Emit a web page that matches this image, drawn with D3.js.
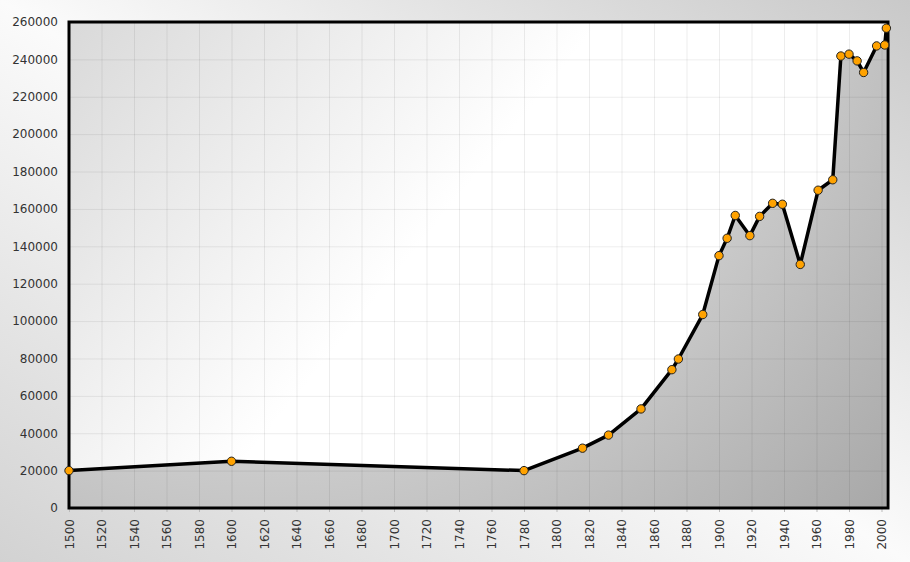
<!DOCTYPE html>
<html>
<head>
<meta charset="utf-8">
<script src="https://cdn.jsdelivr.net/npm/d3@7"></script>
<style>
  body { margin: 0; padding: 0; overflow: hidden; }
  svg { display: block; }
</style>
</head>
<body>
<div id="wrapper"></div>
<script>
// data
const years = [1500, 1600, 1780, 1816, 1832, 1852, 1871, 1875, 1890, 1900, 1905, 1910, 1919,
               1925, 1933, 1939, 1950, 1961, 1970, 1975, 1980, 1985, 1989, 1997, 2002, 2003]
const population = [20000, 25000, 20000, 32000, 39000, 53000, 74000, 79700, 103500, 135000, 144300, 156500, 145700,
                    156000, 163000, 162500, 130300, 170000, 175600, 241800, 242800, 239200, 233000, 247200, 247700, 256700]
const xTicks = [1500, 1520, 1540, 1560, 1580, 1600, 1620, 1640, 1660, 1680, 1700, 1720, 1740,
                1760, 1780, 1800, 1820, 1840, 1860, 1880, 1900, 1920, 1940, 1960, 1980, 2000]
const yTicks = [0, 20000, 40000, 60000, 80000, 100000, 120000, 140000, 160000, 180000, 200000,
                220000, 240000, 260000]
const xDomain = [1500, 2004]
const yDomain = [0, 260000]

const dataset = years.map((y, i) => ({ year: y, pop: population[i] }))
const xAccessor = d => d.year
const yAccessor = d => d.pop

let dimensions = {
    width: 910,
    height: 562,
    margin: { top: 22, right: 22, bottom: 54, left: 69 },
}
dimensions.boundedWidth = dimensions.width - dimensions.margin.left - dimensions.margin.right
dimensions.boundedHeight = dimensions.height - dimensions.margin.top - dimensions.margin.bottom

const wrapper = d3.select("#wrapper")
    .append("svg")
    .attr("width", dimensions.width)
    .attr("height", dimensions.height)

const defs = wrapper.append("defs")

// outer background: grey corners, light diagonal
const bgGrad = defs.append("linearGradient")
    .attr("id", "bgGrad")
    .attr("x1", 1).attr("y1", 0).attr("x2", 0).attr("y2", 1)
bgGrad.append("stop").attr("offset", 0).attr("stop-color", "#c9c9c9")
bgGrad.append("stop").attr("offset", 0.5).attr("stop-color", "#fbfbfb")
bgGrad.append("stop").attr("offset", 1).attr("stop-color", "#d2d2d2")

// plot background: grey top-left fading to white
const plotGrad = defs.append("linearGradient")
    .attr("id", "plotGrad")
    .attr("gradientUnits", "userSpaceOnUse")
    .attr("x1", 0).attr("y1", 0).attr("x2", 320).attr("y2", 260)
plotGrad.append("stop").attr("offset", 0).attr("stop-color", "#d9d9d9")
plotGrad.append("stop").attr("offset", 1).attr("stop-color", "#ffffff")

// area fill: light on top, darker toward bottom right
const areaGrad = defs.append("radialGradient")
    .attr("id", "areaGrad")
    .attr("gradientUnits", "userSpaceOnUse")
    .attr("cx", 200).attr("cy", -100).attr("r", 870)
    .attr("fx", 200).attr("fy", -100)
areaGrad.append("stop").attr("offset", 0).attr("stop-color", "#d8d8d8")
areaGrad.append("stop").attr("offset", 0.55).attr("stop-color", "#d2d2d2")
areaGrad.append("stop").attr("offset", 1).attr("stop-color", "#a6a6a6")

wrapper.append("rect")
    .attr("width", dimensions.width)
    .attr("height", dimensions.height)
    .attr("fill", "url(#bgGrad)")

const bounds = wrapper.append("g")
    .attr("transform", `translate(${dimensions.margin.left},${dimensions.margin.top})`)

const xScaler = d3.scaleLinear()
    .domain(xDomain)
    .range([0, dimensions.boundedWidth])

const yScaler = d3.scaleLinear()
    .domain(yDomain)
    .range([dimensions.boundedHeight, 0])

bounds.append("rect")
    .attr("width", dimensions.boundedWidth)
    .attr("height", dimensions.boundedHeight)
    .attr("fill", "url(#plotGrad)")

// area under the line
const areaGen = d3.area()
    .x(d => xScaler(xAccessor(d)))
    .y0(yScaler(0))
    .y1(d => yScaler(yAccessor(d)))

bounds.append("path")
    .datum(dataset)
    .attr("d", areaGen)
    .attr("fill", "url(#areaGrad)")

// grid
const xGrid = bounds.append("g")
    .call(d3.axisBottom(xScaler).tickValues(xTicks).tickSize(-dimensions.boundedHeight).tickFormat(""))
    .attr("transform", `translate(0,${dimensions.boundedHeight})`)
xGrid.select(".domain").remove()
xGrid.selectAll("line").attr("stroke", "rgba(0,0,0,0.07)")

const yGrid = bounds.append("g")
    .call(d3.axisLeft(yScaler).tickValues(yTicks).tickSize(-dimensions.boundedWidth).tickFormat(""))
yGrid.select(".domain").remove()
yGrid.selectAll("line").attr("stroke", "rgba(0,0,0,0.07)")

// axes
const xAxisGen = d3.axisBottom(xScaler)
    .tickValues(xTicks)
    .tickSize(4)
    .tickPadding(0)
    .tickFormat(d3.format("d"))
const xAxis = bounds.append("g")
    .call(xAxisGen)
    .attr("transform", `translate(0,${dimensions.boundedHeight})`)
xAxis.select(".domain").remove()
xAxis.selectAll("line").attr("stroke", "#bbb")
xAxis.selectAll("text")
    .attr("transform", "rotate(-90)")
    .attr("x", -11)
    .attr("y", 0)
    .attr("dy", "0.35em")
    .attr("text-anchor", "end")
    .attr("fill", "#333")
    .attr("font-family", "DejaVu Sans")
    .attr("font-size", "12px")

const yAxisGen = d3.axisLeft(yScaler)
    .tickValues(yTicks)
    .tickSize(0)
    .tickPadding(11)
    .tickFormat(d3.format("d"))
const yAxis = bounds.append("g")
    .call(yAxisGen)
yAxis.select(".domain").remove()
yAxis.selectAll("text")
    .attr("fill", "#333")
    .attr("font-family", "DejaVu Sans")
    .attr("font-size", "12px")

// frame
bounds.append("rect")
    .attr("width", dimensions.boundedWidth)
    .attr("height", dimensions.boundedHeight)
    .attr("fill", "none")
    .attr("stroke", "black")
    .attr("stroke-width", 3)

// line
const lineGen = d3.line()
    .x(d => xScaler(xAccessor(d)))
    .y(d => yScaler(yAccessor(d)))

bounds.append("path")
    .datum(dataset)
    .attr("d", lineGen)
    .attr("fill", "none")
    .attr("stroke", "black")
    .attr("stroke-width", 3.5)
    .attr("stroke-linejoin", "round")

const dots = bounds.append("g")
    .selectAll("circle")
    .data(dataset)
    .enter()
    .append("circle")
    .attr("cx", d => xScaler(xAccessor(d)))
    .attr("cy", d => yScaler(yAccessor(d)))
    .attr("r", 4.2)
    .attr("fill", "#ffa200")
    .attr("stroke", "#222")
    .attr("stroke-width", 1)
</script>
</body>
</html>
